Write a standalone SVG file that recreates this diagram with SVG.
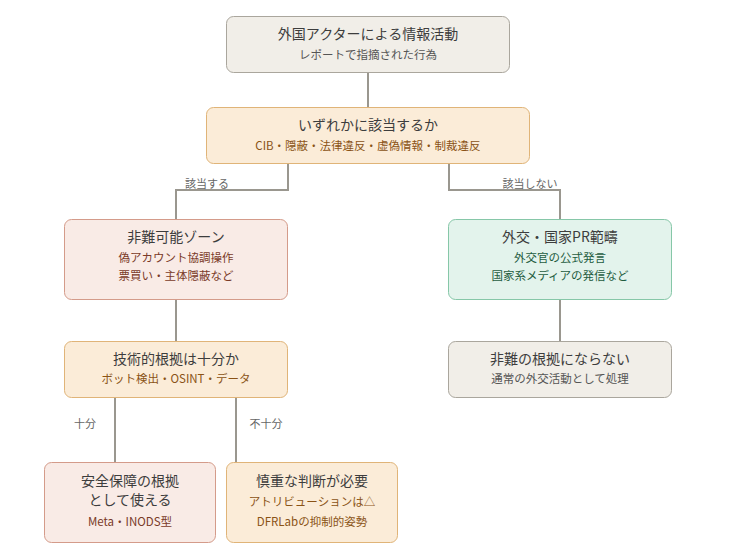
<svg xmlns="http://www.w3.org/2000/svg" width="742" height="556" viewBox="0 0 742 556">
<style>
text{font-family:"Noto Sans CJK JP","Noto Sans",sans-serif;text-anchor:middle}
.t{font-size:14px;fill:#3d3d3d}
.s{font-size:11.5px}
.lbl{font-size:11px;fill:#666}
.gray rect{fill:#f1eee8;stroke:#aaa69d}
.gray .s{fill:#555}
.org rect{fill:#fbecd8;stroke:#e0b478}
.org .s{fill:#8a5316}
.pink rect{fill:#f9ebe6;stroke:#d49b8a}
.pink .s{fill:#7a3a28}
.grn rect{fill:#e3f3ec;stroke:#86c7a8}
.grn .s{fill:#1e5c40}
rect{stroke-width:1}
#c path{fill:none;stroke:#9a978f;stroke-width:2}
</style>
<g id="c">
<path d="M368 73V107"/>
<path d="M288 164V190H176V219"/>
<path d="M449 164V190H560V219"/>
<path d="M176 300V341"/>
<path d="M560 300V341"/>
<path d="M115 397V462"/>
<path d="M236 397V462"/>
<text class="lbl" x="207" y="188">該当する</text>
<text class="lbl" x="530" y="188">該当しない</text>
<text class="lbl" x="85" y="428">十分</text>
<text class="lbl" x="266" y="428">不十分</text>
</g>
<g id="n1" class="gray"><rect x="226.5" y="16.5" width="283" height="56" rx="7"/><text class="t" x="368" y="39">外国アクターによる情報活動</text><text class="s" x="368" y="59">レポートで指摘された行為</text></g>
<g id="n2" class="org"><rect x="206.5" y="107.5" width="323" height="56" rx="7"/><text class="t" x="368" y="130">いずれかに該当するか</text><text class="s" x="368" y="150">CIB・隠蔽・法律違反・虚偽情報・制裁違反</text></g>
<g id="n3" class="pink"><rect x="64.5" y="219.5" width="223" height="80" rx="7"/><text class="t" x="176" y="242">非難可能ゾーン</text><text class="s" x="176" y="262">偽アカウント協調操作</text><text class="s" x="176" y="280">票買い・主体隠蔽など</text></g>
<g id="n4" class="grn"><rect x="448.5" y="219.5" width="223" height="80" rx="7"/><text class="t" x="560" y="242">外交・国家PR範疇</text><text class="s" x="560" y="262">外交官の公式発言</text><text class="s" x="560" y="280">国家系メディアの発信など</text></g>
<g id="n5" class="org"><rect x="64.5" y="341.5" width="223" height="56" rx="7"/><text class="t" x="176" y="364">技術的根拠は十分か</text><text class="s" x="176" y="383">ボット検出・OSINT・データ</text></g>
<g id="n6" class="gray"><rect x="448.5" y="341.5" width="223" height="56" rx="7"/><text class="t" x="560" y="364">非難の根拠にならない</text><text class="s" x="560" y="383">通常の外交活動として処理</text></g>
<g id="n7" class="pink"><rect x="44.5" y="462.5" width="171" height="80" rx="7"/><text class="t" x="130" y="486">安全保障の根拠</text><text class="t" x="130" y="505">として使える</text><text class="s" x="130" y="526">Meta・INODS型</text></g>
<g id="n8" class="org"><rect x="226.5" y="462.5" width="171" height="80" rx="7"/><text class="t" x="312" y="486">慎重な判断が必要</text><text class="s" x="312" y="506">アトリビューションは△</text><text class="s" x="312" y="526">DFRLabの抑制的姿勢</text></g>
</svg>
